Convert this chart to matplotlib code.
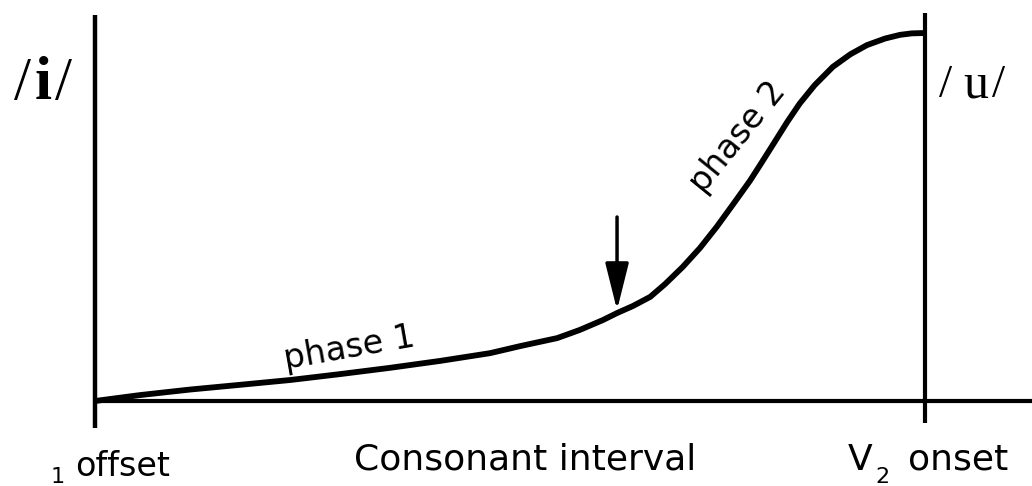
import numpy as np
import matplotlib
matplotlib.use("Agg")
import matplotlib.pyplot as plt

# normalised time across the consonant interval (0 = V1 offset, 1 = V2 onset)
t = [0.0, 0.054, 0.114, 0.175, 0.235, 0.295, 0.355, 0.416, 0.476, 0.512,
     0.557, 0.584, 0.612, 0.629, 0.648, 0.669, 0.687, 0.708, 0.729, 0.749,
     0.769, 0.789, 0.801, 0.817, 0.834, 0.849, 0.867, 0.889, 0.910, 0.930,
     0.952, 0.970, 0.984, 1.0]
# tongue position going from /i/ (0) to /u/ (1)
pos = [0.0, 0.016, 0.031, 0.044, 0.057, 0.073, 0.090, 0.109, 0.130, 0.149,
       0.171, 0.193, 0.220, 0.239, 0.258, 0.283, 0.318, 0.364, 0.416, 0.473,
       0.535, 0.598, 0.640, 0.697, 0.758, 0.808, 0.858, 0.908, 0.942, 0.967,
       0.985, 0.995, 0.999, 1.0]

v1_offset = 0.0
v2_onset = 1.0
phase_boundary = 0.629   # where the arrow points
phase_boundary_pos = 0.247

fig = plt.figure(figsize=(10.32, 4.86), dpi=100)
ax = fig.add_axes([0, 0, 1, 1])
ax.set_xlim(-0.1145, 1.129)
ax.set_ylim(-0.231, 1.0897)
ax.axis("off")

# frame lines
ax.plot([v1_offset, v1_offset], [-0.073, 1.049], color="black", lw=3.2, solid_capstyle="butt")
ax.plot([v2_onset, v2_onset], [-0.060, 1.054], color="black", lw=3.0, solid_capstyle="butt")
ax.plot([v1_offset, 1.129], [0, 0], color="black", lw=3.0, solid_capstyle="butt")

# the transition curve
ax.plot(t, pos, color="black", lw=4.2, solid_capstyle="butt", solid_joinstyle="round")

# arrow marking the phase boundary
ax.annotate("", xy=(phase_boundary, phase_boundary_pos), xytext=(phase_boundary, 0.5),
            arrowprops=dict(arrowstyle="-|>,head_length=1.44,head_width=0.36",
                            mutation_scale=20, lw=2.5, color="black",
                            shrinkA=0, shrinkB=0))

# phase labels
ax.text(0.307, 0.144, "phase 1", fontsize=24, rotation=10, rotation_mode="anchor",
        ha="center", va="center")
ax.text(0.775, 0.717, "phase 2", fontsize=24, rotation=51, rotation_mode="anchor",
        ha="center", va="center")

# vowel labels, glyphs set apart like the original lettering
serif = "Liberation Serif"
ax.text(-0.087, 0.821, "/", fontsize=44, family=serif, ha="center", va="baseline")
ax.text(-0.063, 0.821, "i", fontsize=44, family=serif, weight="bold", ha="center", va="baseline")
ax.text(-0.038, 0.821, "/", fontsize=44, family=serif, ha="center", va="baseline")
ax.text(1.025, 0.826, "/", fontsize=34, family=serif, ha="center", va="baseline")
ax.text(1.061, 0.826, "u", fontsize=36, family=serif, ha="center", va="baseline")
ax.text(1.089, 0.826, "/", fontsize=34, family=serif, ha="center", va="baseline")

# bottom labels
ax.text(-0.054, -0.223, "1", fontsize=16, ha="left", va="baseline")
ax.text(-0.024, -0.204, "offset", fontsize=24, ha="left", va="baseline")
ax.text(0.518, -0.1875, "Consonant interval", fontsize=26, ha="center", va="baseline")
ax.text(0.907, -0.1875, "V", fontsize=26, ha="left", va="baseline")
ax.text(0.940, -0.223, "2", fontsize=16, ha="left", va="baseline")
ax.text(0.9795, -0.1875, "onset", fontsize=26, ha="left", va="baseline")

fig.savefig("out.png", dpi=100, facecolor="white")
